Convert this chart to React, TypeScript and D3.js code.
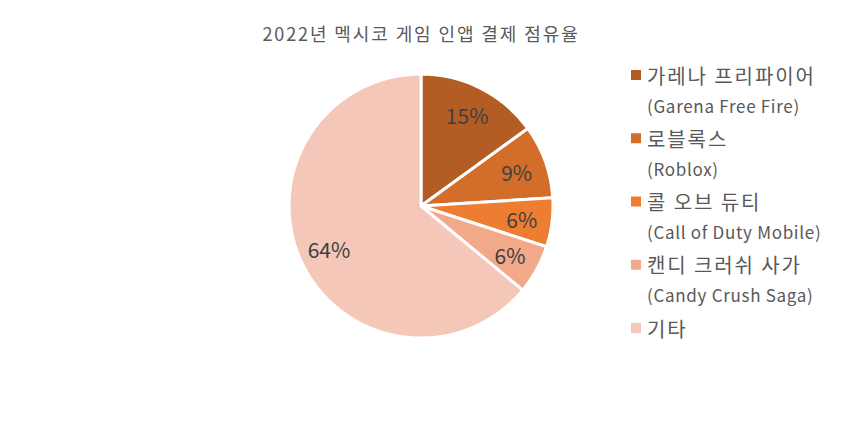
import React from "react";
import * as d3 from "d3";

const title = "2022년 멕시코 게임 인앱 결제 점유율";
const namesKo = ["가레나 프리파이어", "로블록스", "콜 오브 듀티", "캔디 크러쉬 사가", "기타"];
const namesEn = ["(Garena Free Fire)", "(Roblox)", "(Call of Duty Mobile)", "(Candy Crush Saga)", ""];
const values = [15, 9, 6, 6, 64];
const colors = ["#B35C23", "#D36D2A", "#EE7D31", "#F2A98A", "#F5C7B8"];

const W = 842, H = 437;
const cx = 421, cy = 206, R = 132;
const font = "'Noto Sans CJK KR', 'Noto Sans', sans-serif";

export default function App() {
  const pie = d3.pie<number>().sort(null).value((d) => d)(values);
  const arc = d3.arc<d3.PieArcDatum<number>>().innerRadius(0).outerRadius(R);
  const labelArc = d3.arc<d3.PieArcDatum<number>>().innerRadius(R * 0.77).outerRadius(R * 0.77);
  const total = d3.sum(values);
  const legendY = d3.scaleLinear().domain([0, 4]).range([75, 328]);

  return (
    <svg width={W} height={H} style={{ position: "absolute", left: 0, top: 0 }} fontFamily={font}>
      <rect width={W} height={H} fill="#fff" />
      <text x={cx} y={33} textAnchor="middle" dominantBaseline="central" fontSize={18} letterSpacing={1.9} fill="#595959">
        {title}
      </text>
      <g transform={`translate(${cx},${cy})`}>
        {pie.map((p, i) => (
          <path key={i} d={arc(p) || ""} fill={colors[i]} stroke="#fff" strokeWidth={3} strokeLinejoin="round" />
        ))}
        {pie.map((p, i) => {
          const [x, y] = labelArc.centroid(p);
          return (
            <text key={i} x={x} y={y} textAnchor="middle" dominantBaseline="central" fontSize={21} fill="#404040">
              {Math.round((values[i] / total) * 100)}%
            </text>
          );
        })}
      </g>
      {namesKo.map((n, i) => {
        const y = legendY(i);
        return (
          <g key={i}>
            <rect x={631} y={y - 5} width={10} height={10} fill={colors[i]} />
            <text x={647} y={y} dominantBaseline="central" fontSize={20} letterSpacing={1.9} fill="#595959">{n}</text>
            {namesEn[i] && (
              <text x={647} y={y + 30} dominantBaseline="central" fontSize={17} letterSpacing={0.7} fill="#595959">{namesEn[i]}</text>
            )}
          </g>
        );
      })}
    </svg>
  );
}
